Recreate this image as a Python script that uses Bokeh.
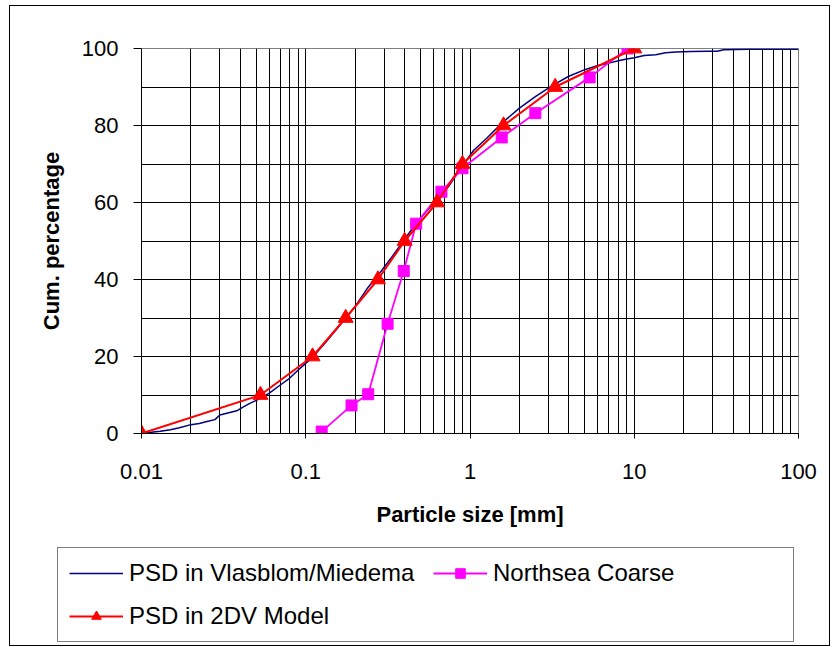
from bokeh.plotting import figure
from bokeh.layouts import column, row
from bokeh.models import (Range1d, FixedTicker, Legend, LegendItem, InlineStyleSheet)
from bokeh.embed import file_html
from bokeh.resources import INLINE

# ---------------- data ----------------
# PSD in Vlasblom/Miedema (fine stepwise curve)
vm_size = [0.01, 0.0115, 0.013, 0.015, 0.017, 0.02, 0.0225, 0.025, 0.028, 0.03, 0.034,
           0.038, 0.042, 0.046, 0.05, 0.055, 0.06, 0.07, 0.08, 0.09, 0.1, 0.11, 0.13,
           0.15, 0.175, 0.2, 0.24, 0.28, 0.33, 0.4, 0.48, 0.55, 0.63, 0.75, 0.9, 1.05,
           1.25, 1.6, 2.0, 2.5, 3.2, 4.0, 5.0, 6.0, 7.0, 8.0, 9.0, 10, 11.5, 13.5, 15.5,
           18, 22, 28, 32, 35, 50, 100]
vm_pct = [0, 0.3, 0.6, 1.0, 1.5, 2.3, 2.6, 3.1, 3.6, 4.8, 5.4, 5.9, 7.0, 7.9, 8.6, 9.5,
          10.5, 12.6, 14.4, 16.5, 18.2, 19.8, 23.3, 26.5, 30, 33, 38, 41.5, 45.5, 50.5,
          55, 58, 60.5, 64.5, 69.5, 73.5, 76.5, 81, 84.5, 87.5, 90.5, 92.8, 94.5, 95.6,
          96.2, 96.8, 97.3, 97.6, 98.2, 98.4, 98.9, 99.1, 99.2, 99.3, 99.3, 99.7, 99.8, 99.8]

# Northsea Coarse
ns_size = [0.125, 0.19, 0.24, 0.315, 0.395, 0.47, 0.67, 0.9, 1.56, 2.5, 5.35, 9.1]
ns_pct = [0.5, 7.3, 10.2, 28.5, 42.2, 54.5, 62.8, 68.9, 76.9, 83.2, 92.5, 100]

# PSD in 2DV Model
dv_size = [0.01, 0.053, 0.11, 0.175, 0.275, 0.4, 0.63, 0.9, 1.6, 3.3, 10]
dv_pct = [0, 10, 20, 30, 40, 50, 60, 70, 80, 90, 100]

y_ticks = [0, 20, 40, 60, 80, 100]
x_tick_labels = {0.01: "0.01", 0.1: "0.1", 1: "1", 10: "10", 100: "100"}
series_names = ["PSD in Vlasblom/Miedema", "Northsea Coarse", "PSD in 2DV Model"]

FONT = "Liberation Sans"
C_VM, C_NS, C_DV = "#000080", "#ff00ff", "#ff0000"


def add_series(fig):
    r_vm = fig.line(vm_size, vm_pct, line_color=C_VM, line_width=1.5)
    r_ns_l = fig.line(ns_size, ns_pct, line_color=C_NS, line_width=1.8)
    r_ns_m = fig.scatter(ns_size, ns_pct, marker="square", size=11,
                         fill_color=C_NS, line_color=C_NS)
    r_dv_l = fig.line(dv_size, dv_pct, line_color=C_DV, line_width=2)
    r_dv_m = fig.scatter(dv_size, dv_pct, marker="triangle", size=15,
                         fill_color=C_DV, line_color=C_DV)
    return [[r_vm], [r_ns_l, r_ns_m], [r_dv_l, r_dv_m]]


# ---------------- main chart ----------------
p = figure(x_axis_type="log", x_range=Range1d(0.01, 100), y_range=Range1d(0, 100),
           frame_width=657, frame_height=385, width=833, height=545,
           min_border_left=141, min_border_right=35, min_border_top=48, min_border_bottom=112,
           output_backend="svg", toolbar_location=None,
           background_fill_color="white", border_fill_color="white")
p.outline_line_color = "#808080"
p.outline_line_width = 1

# grids: black lines at every 1..9 per decade and every 10 %
xg = []
for e in range(-2, 2):
    for m in range(1, 10):
        xg.append(m * 10.0 ** e)
p.xgrid.ticker = FixedTicker(ticks=xg)
p.xgrid.grid_line_color = "black"
p.xgrid.grid_line_width = 1
p.ygrid.ticker = FixedTicker(ticks=list(range(0, 100, 10)))
p.ygrid.grid_line_color = "black"
p.ygrid.grid_line_width = 1

# axes
p.xaxis.ticker = FixedTicker(ticks=list(x_tick_labels.keys()))
p.xaxis.major_label_overrides = x_tick_labels
p.yaxis.ticker = FixedTicker(ticks=y_ticks)
for ax in (p.xaxis[0], p.yaxis[0]):
    ax.axis_line_color = "black"
    ax.axis_line_width = 1
    ax.major_tick_line_color = "black"
    ax.major_tick_in = 0
    ax.minor_tick_line_color = None
    ax.major_label_text_font = FONT
    ax.major_label_text_font_size = "22px"
    ax.major_label_text_color = "black"
    ax.axis_label_text_font = FONT
    ax.axis_label_text_font_size = "22px"
    ax.axis_label_text_font_style = "bold"
    ax.axis_label_text_color = "black"
p.xaxis.major_tick_out = 5
p.xaxis.major_label_standoff = 25
p.xaxis.axis_label = "Particle size [mm]"
p.xaxis.axis_label_standoff = 20
p.yaxis.major_tick_out = 8
p.yaxis.major_label_standoff = 15
p.yaxis.axis_label = "Cum. percentage"
p.yaxis.axis_label_standoff = 15

add_series(p)

# ---------------- legend strip (same series, ranges set so nothing is in view) ----------------
q = figure(width=833, height=102, x_range=Range1d(1000, 2000), y_range=Range1d(1000, 2000),
           min_border=0, min_border_left=0, min_border_right=0, min_border_top=0,
           min_border_bottom=0, x_axis_location=None, y_axis_location=None,
           output_backend="svg", toolbar_location=None,
           background_fill_color="white", border_fill_color="white")
q.outline_line_color = None
q.grid.visible = False
q_renderers = add_series(q)

legend = Legend(items=[LegendItem(label=name, renderers=rs)
                       for name, rs in zip(series_names, q_renderers)],
                location=(57, 5), orientation="horizontal", ncols=2)
legend.label_text_font = FONT
legend.label_text_font_size = "24px"
legend.label_text_color = "black"
legend.glyph_width = 54
legend.glyph_height = 24
legend.label_height = 24
legend.label_width = 289
legend.label_standoff = 6
legend.spacing = 15
legend.padding = 11
legend.margin = 0
legend.border_line_color = "black"
legend.border_line_width = 1.2
legend.background_fill_color = "white"
q.add_layout(legend, "center")

page = column(p, row(q), spacing=0)
# outer chart frame drawn as an overlay box
page.stylesheets = [InlineStyleSheet(css=(
    ":host { position: relative; }"
    ":host::after { content: ''; position: absolute; left: 9px; top: 5px; width: 821px;"
    " height: 641px; border: 1px solid #000; box-sizing: border-box;"
    " pointer-events: none; z-index: 100; }"))]

open("out.html", "w").write(file_html(page, INLINE))
